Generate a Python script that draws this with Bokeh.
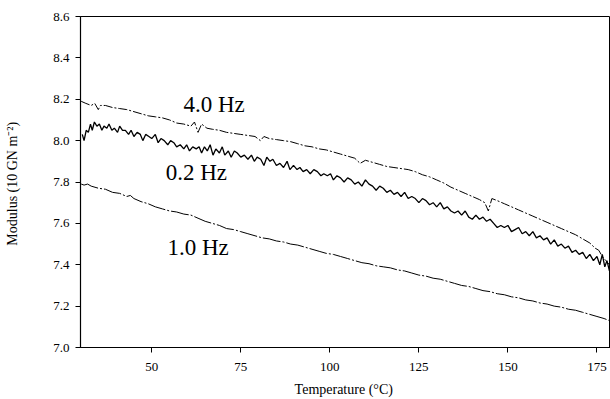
from bokeh.plotting import figure
from bokeh.models import FixedTicker, NumeralTickFormatter, Range1d
from bokeh.core.properties import value
from bokeh.embed import file_html
from bokeh.resources import INLINE

# ---- data ----
t_02 = [30.5, 31.0, 31.6, 32.2, 32.8, 33.3, 33.9, 34.6, 35.3, 36.0, 36.6, 37.4, 38.0, 38.8, 39.5, 40.4,
        41.0, 41.8, 42.6, 43.5, 44.2, 45.0, 45.9, 46.8, 47.5, 48.3, 49.2, 50.0, 51.0, 51.8, 52.6, 53.5,
        54.5, 55.3, 56.2, 57.0, 58.0, 59.0, 59.8, 60.6, 61.5, 62.5, 63.3, 64.0, 64.8, 65.6, 66.4, 67.2,
        68.0, 69.0, 69.8, 70.5, 71.5, 72.3, 73.2, 74.0, 75.0, 76.0, 77.0, 78.0, 78.8, 79.6, 80.6, 81.5,
        82.3, 83.2, 84.0, 85.0, 86.0, 87.0, 88.0, 88.8, 89.8, 90.8, 91.6, 92.5, 93.5, 94.5, 95.5, 96.5,
        97.5, 98.3, 99.3, 100.2, 101.0, 102.0, 103.0, 104.0, 105.0, 106.0, 107.0, 108.0, 109.0, 110.0,
        111.0, 112.0, 113.0, 114.0, 115.0, 116.0, 117.0, 118.0, 119.0, 120.0, 121.0, 122.0, 123.0,
        124.0, 125.0, 126.0, 127.0, 128.0, 129.0, 130.0, 131.0, 132.0, 133.0, 134.0, 135.0, 136.0,
        137.0, 138.0, 139.0, 140.0, 141.0, 142.0, 143.0, 144.0, 145.0, 146.0, 147.0, 148.0, 149.0,
        150.0, 151.0, 152.0, 153.0, 154.0, 155.0, 156.0, 157.0, 158.0, 159.0, 160.0, 161.0, 162.0,
        163.0, 164.0, 165.0, 166.0, 167.0, 168.0, 169.0, 170.0, 171.0, 172.0, 173.0, 174.0, 175.0,
        175.8, 176.5, 177.2, 177.8, 178.5]
m_02 = [8.03, 8.00, 8.05, 8.04, 8.08, 8.05, 8.09, 8.07, 8.08, 8.05, 8.07, 8.06, 8.08, 8.05, 8.06, 8.04,
        8.07, 8.05, 8.05, 8.03, 8.05, 8.02, 8.04, 8.03, 8.00, 8.03, 8.02, 8.01, 8.03, 7.99, 8.01, 8.00,
        7.98, 8.00, 7.99, 7.97, 7.98, 7.96, 7.98, 7.95, 7.97, 7.96, 7.97, 7.94, 7.97, 7.95, 7.98, 7.93,
        7.96, 7.94, 7.97, 7.93, 7.95, 7.92, 7.95, 7.94, 7.92, 7.93, 7.91, 7.93, 7.90, 7.92, 7.91, 7.88,
        7.92, 7.90, 7.91, 7.88, 7.89, 7.87, 7.90, 7.86, 7.88, 7.86, 7.87, 7.85, 7.86, 7.84, 7.86, 7.85,
        7.83, 7.84, 7.83, 7.84, 7.81, 7.83, 7.82, 7.80, 7.82, 7.81, 7.79, 7.80, 7.78, 7.81,
        7.79, 7.78, 7.76, 7.78, 7.77, 7.75, 7.76, 7.74, 7.75, 7.73, 7.75, 7.72, 7.73,
        7.72, 7.70, 7.72, 7.71, 7.69, 7.70, 7.68, 7.70, 7.67, 7.68, 7.66, 7.65, 7.66,
        7.64, 7.66, 7.63, 7.62, 7.64, 7.62, 7.63, 7.61, 7.62, 7.60, 7.58, 7.59, 7.58,
        7.59, 7.56, 7.57, 7.58, 7.55, 7.56, 7.54, 7.56, 7.53, 7.54, 7.52, 7.53, 7.50,
        7.52, 7.49, 7.50, 7.48, 7.49, 7.46, 7.47, 7.45, 7.46, 7.43, 7.45, 7.42, 7.44,
        7.40, 7.45, 7.39, 7.42, 7.37]

t_40 = [30.2, 31.5, 33.0, 34.0, 35.0, 35.6, 37.0, 39.0, 41.0, 43.0, 45.0, 47.0, 49.0, 51.0, 53.0, 55.0,
        57.0, 59.0, 61.0, 62.0, 63.0, 64.0, 65.5, 67.0, 69.0, 71.0, 73.0, 75.0, 77.0, 79.0, 80.5, 81.5,
        83.0, 85.0, 87.0, 89.0, 91.0, 93.0, 95.0, 97.0, 99.0, 101.0, 103.0, 105.0, 107.0, 108.5, 110.0,
        112.0, 114.0, 116.0, 118.0, 120.0, 122.0, 124.0, 126.0, 128.0, 130.0, 132.0, 134.0, 136.0,
        138.0, 140.0, 142.0, 143.5, 144.5, 145.5, 147.0, 149.0, 151.0, 153.0, 155.0, 157.0, 159.0,
        161.0, 163.0, 165.0, 167.0, 169.0, 171.0, 173.0, 174.5, 175.5, 176.5, 177.5, 178.5]
m_40 = [8.19, 8.18, 8.17, 8.18, 8.15, 8.17, 8.17, 8.16, 8.155, 8.15, 8.14, 8.13, 8.12, 8.115, 8.11, 8.10,
        8.085, 8.08, 8.07, 8.09, 8.04, 8.08, 8.06, 8.055, 8.05, 8.04, 8.035, 8.03, 8.025, 8.02, 8.00, 8.02,
        8.01, 8.005, 8.0, 7.995, 7.985, 7.975, 7.97, 7.96, 7.955, 7.945, 7.935, 7.925, 7.915, 7.89, 7.905,
        7.895, 7.885, 7.875, 7.87, 7.865, 7.86, 7.85, 7.835, 7.825, 7.81, 7.795, 7.775, 7.76,
        7.745, 7.73, 7.715, 7.70, 7.66, 7.72, 7.71, 7.695, 7.68, 7.665, 7.65, 7.635, 7.62,
        7.605, 7.59, 7.575, 7.56, 7.545, 7.525, 7.505, 7.48, 7.47, 7.44, 7.42, 7.40]

t_10 = [30.2, 31.0, 32.0, 33.0, 35.0, 37.0, 39.0, 41.0, 43.0, 44.0, 45.0, 47.0, 49.0, 51.0, 53.0, 55.0,
        57.0, 59.0, 61.0, 63.0, 65.0, 67.0, 69.0, 71.0, 73.0, 75.0, 77.0, 79.0, 81.0, 83.0, 85.0, 87.0,
        89.0, 91.0, 93.0, 95.0, 97.0, 99.0, 101.0, 103.0, 105.0, 107.0, 109.0, 111.0, 113.0, 115.0,
        117.0, 119.0, 121.0, 123.0, 125.0, 127.0, 129.0, 131.0, 133.0, 135.0, 137.0, 139.0, 141.0,
        143.0, 145.0, 147.0, 149.0, 151.0, 153.0, 155.0, 157.0, 159.0, 161.0, 163.0, 165.0, 167.0,
        169.0, 171.0, 173.0, 175.0, 177.0, 178.5]
m_10 = [7.79, 7.785, 7.79, 7.78, 7.77, 7.765, 7.75, 7.745, 7.73, 7.735, 7.72, 7.705, 7.695, 7.68, 7.67, 7.66,
        7.655, 7.645, 7.64, 7.625, 7.61, 7.60, 7.59, 7.575, 7.57, 7.56, 7.55, 7.54, 7.53, 7.525, 7.515, 7.51,
        7.50, 7.495, 7.485, 7.475, 7.465, 7.455, 7.45, 7.44, 7.43, 7.42, 7.41, 7.405, 7.395, 7.39,
        7.385, 7.375, 7.37, 7.36, 7.35, 7.345, 7.335, 7.33, 7.32, 7.31, 7.30, 7.295, 7.285,
        7.275, 7.27, 7.26, 7.255, 7.245, 7.24, 7.23, 7.225, 7.215, 7.21, 7.20, 7.195, 7.185,
        7.18, 7.17, 7.16, 7.15, 7.14, 7.13]

label_text = ["4.0 Hz", "0.2 Hz", "1.0 Hz"]
label_t = [58.9, 53.9, 54.4]
label_m = [8.176, 7.848, 7.485]

x_ticks = [50, 75, 100, 125, 150, 175]
y_ticks = [7.0, 7.2, 7.4, 7.6, 7.8, 8.0, 8.2, 8.4, 8.6]

SERIF = "Liberation Serif"

p = figure(width=610, height=399, output_backend="svg", toolbar_location=None,
           x_range=Range1d(30, 178.8), y_range=Range1d(7.0, 8.6),
           min_border_left=80, min_border_right=0, min_border_top=16, min_border_bottom=52)
p.grid.visible = False
p.background_fill_color = "white"
p.border_fill_color = "white"
p.outline_line_color = "black"
p.outline_line_width = 1

p.line(t_02, m_02, line_color="black", line_width=1.3)
p.line(t_40, m_40, line_color="black", line_width=1.0, line_dash="9 2 2 2")
p.line(t_10, m_10, line_color="black", line_width=1.0, line_dash="18 2 2 2")

p.text(x=label_t, y=label_m, text=label_text, text_font=value(SERIF), text_font_size="23px",
       text_color="black", text_baseline="alphabetic", text_align="left")

p.xaxis.ticker = FixedTicker(ticks=x_ticks)
p.yaxis.ticker = FixedTicker(ticks=y_ticks)
p.yaxis.formatter = NumeralTickFormatter(format="0.0")
for ax in (p.xaxis, p.yaxis):
    ax.axis_line_color = "black"
    ax.axis_line_width = 1.2
    ax.major_tick_line_color = "black"
    ax.major_tick_in = 0
    ax.major_tick_out = 5
    ax.minor_tick_line_color = None
    ax.major_label_text_font = SERIF
    ax.major_label_text_font_size = "13px"
    ax.major_label_text_color = "black"
    ax.axis_label_text_font = SERIF
    ax.axis_label_text_font_size = "14px"
    ax.axis_label_text_font_style = "normal"
    ax.axis_label_text_color = "black"

p.xaxis.axis_label = "Temperature  (°C)"
p.yaxis.axis_label = "Modulus  (10 GN m⁻²)"
p.xaxis.major_label_standoff = 10
p.xaxis.axis_label_standoff = 8
p.yaxis.major_label_standoff = 6
p.yaxis.axis_label_standoff = 30
p.min_border_left = 80

open("out.html", "w").write(file_html(p, INLINE))
